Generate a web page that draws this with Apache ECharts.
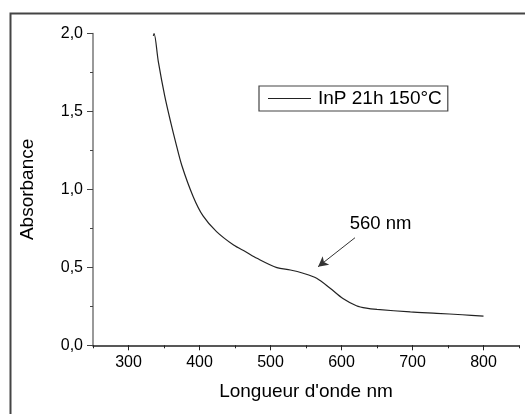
<!DOCTYPE html>
<html>
<head>
<meta charset="utf-8">
<script src="https://cdn.jsdelivr.net/npm/echarts@6/dist/echarts.min.js"></script>
<style>html,body{margin:0;padding:0;background:#fff;}#c{width:525px;height:414px;}</style>
</head>
<body>
<div id="c"></div>
<script>
const seriesName = 'InP 21h 150°C';
const wavelength = [335, 336, 342, 351, 360, 366, 375, 391, 405, 424, 448, 465, 481, 509, 528, 546, 565, 584, 602, 621, 635, 650, 697, 734, 770, 800];
const absorbance = [1.985, 2.0, 1.82, 1.60, 1.42, 1.31, 1.155, 0.955, 0.83, 0.729, 0.643, 0.60, 0.558, 0.498, 0.483, 0.462, 0.43, 0.366, 0.30, 0.254, 0.238, 0.23, 0.214, 0.205, 0.196, 0.187];
const xMajorTicks = [300, 400, 500, 600, 700, 800];
const annotationText = '560 nm';
const annotationAt = [655, 0.778];
const arrowFrom = [619, 0.69];
const arrowTo = [567, 0.504];

const font = 'Arial, "Liberation Sans", sans-serif';
const chart = echarts.init(document.getElementById('c'), null, {renderer: 'canvas'});
const data = wavelength.map((w, i) => [w, absorbance[i]]);

chart.setOption({
  animation: false,
  backgroundColor: '#fff',
  graphic: [{
    type: 'rect', left: 8, top: 11, silent: true,
    shape: {x: 0, y: 0, width: 640, height: 520},
    style: {fill: 'none', stroke: '#444', lineWidth: 2}
  }],
  grid: {left: 93, top: 33.5, right: 6, bottom: 68.7, containLabel: false},
  legend: {
    left: 259, top: 86,
    padding: [3, 6, 3, 9],
    icon: 'rect',
    itemWidth: 43, itemHeight: 1.2, itemGap: 7,
    borderColor: '#444', borderWidth: 1.2, backgroundColor: '#fff',
    textStyle: {fontFamily: font, fontSize: 19, color: '#000', lineHeight: 19, padding: [0, 0, 0, 2]},
    data: [{name: seriesName}]
  },
  xAxis: [{
    type: 'value', min: 250, max: 850, position: 'bottom',
    name: "Longueur d'onde nm", nameLocation: 'middle', nameGap: 37,
    nameTextStyle: {fontFamily: font, fontSize: 19, color: '#000'},
    axisLine: {show: true, onZero: false, lineStyle: {color: '#222', width: 1.5}},
    axisTick: {show: true, length: 5, customValues: xMajorTicks, lineStyle: {color: '#222', width: 1}},
    axisLabel: {show: true, customValues: xMajorTicks, margin: 9, fontFamily: font, fontSize: 16, color: '#000'},
    splitLine: {show: false}
  }, {
    type: 'value', min: 250, max: 850, interval: 50, position: 'bottom',
    axisLine: {show: false},
    axisTick: {show: true, length: 3, lineStyle: {color: '#222', width: 1}},
    axisLabel: {show: false},
    splitLine: {show: false}
  }],
  yAxis: {
    type: 'value', min: 0, max: 2, interval: 0.5,
    name: 'Absorbance', nameLocation: 'middle', nameGap: 56,
    nameTextStyle: {fontFamily: font, fontSize: 19, color: '#000'},
    axisLine: {show: true, lineStyle: {color: '#777', width: 1.5}},
    axisTick: {show: true, length: 6, lineStyle: {color: '#444', width: 1}},
    minorTick: {show: true, splitNumber: 2, length: 3, lineStyle: {color: '#444', width: 1}},
    axisLabel: {margin: 10, fontFamily: font, fontSize: 16, color: '#000',
      formatter: v => v.toFixed(1).replace('.', ',')},
    splitLine: {show: false}
  },
  series: [{
    name: seriesName, type: 'line', data: data,
    xAxisIndex: 0,
    symbol: 'none', smooth: 0.3,
    lineStyle: {color: '#222', width: 1.2},
    itemStyle: {color: '#222'},
    markLine: {
      silent: true, symbol: ['none', 'arrow'], symbolSize: [8, 10],
      label: {show: false},
      lineStyle: {color: '#333', width: 1, type: 'solid'},
      data: [[{coord: arrowFrom}, {coord: arrowTo}]]
    },
    markPoint: {
      silent: true, symbol: 'circle', symbolSize: 1,
      itemStyle: {color: 'rgba(0,0,0,0)'},
      label: {show: true, position: 'inside', fontFamily: font, fontSize: 18.5, color: '#000', formatter: annotationText},
      data: [{coord: annotationAt}]
    }
  }]
});
</script>
</body>
</html>
